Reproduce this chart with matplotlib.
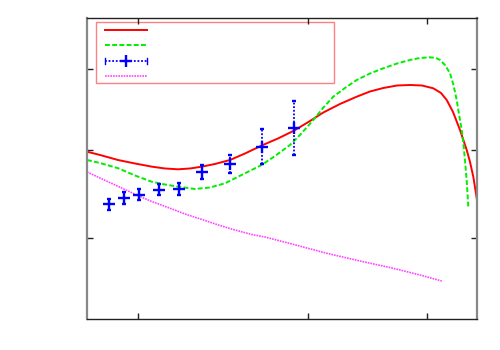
import matplotlib
matplotlib.use("Agg")
import matplotlib.pyplot as plt
from matplotlib.lines import Line2D
from matplotlib.patches import Rectangle

# fit curve 1 (red, solid)
red_x = [0, 0.333, 0.795, 1.231, 1.667, 2.0, 2.333, 2.641, 2.941, 3.282, 3.667, 4.051,
         4.479, 4.897, 5.315, 5.718, 6.059, 6.487, 6.915, 7.256, 7.597, 7.949, 8.282,
         8.590, 8.879, 9.077, 9.223, 9.385, 9.564, 9.736, 9.821, 9.905, 10.0]
red_y = [5.558, 5.449, 5.282, 5.166, 5.060, 5.0, 4.973, 5.0, 5.060, 5.150, 5.282, 5.498,
         5.764, 5.997, 6.262, 6.578, 6.860, 7.143, 7.385, 7.558, 7.674, 7.757, 7.774,
         7.757, 7.664, 7.508, 7.276, 6.877, 6.279, 5.615, 5.216, 4.728, 3.953]

# fit curve 2 (green, dashed)
green_x = [0, 0.333, 0.803, 1.231, 1.659, 2.0, 2.341, 2.769, 3.154, 3.538, 4.051, 4.479,
           4.821, 5.205, 5.462, 5.803, 6.051, 6.315, 6.615, 6.915, 7.256, 7.597, 7.949,
           8.282, 8.538, 8.795, 8.949, 9.051, 9.179, 9.308, 9.397, 9.479, 9.538, 9.608,
           9.654, 9.692, 9.738, 9.777]
green_y = [5.282, 5.183, 5.007, 4.767, 4.561, 4.468, 4.395, 4.319, 4.369, 4.508, 4.841,
           5.116, 5.415, 5.781, 6.113, 6.611, 7.010, 7.385, 7.674, 7.940, 8.156, 8.329,
           8.488, 8.605, 8.671, 8.694, 8.671, 8.605, 8.439, 8.163, 7.774, 7.276, 6.811,
           6.279, 5.781, 5.282, 4.551, 3.731]

# measurements (blue, with error bars)
pts_x = [0.572, 0.941, 1.333, 1.838, 2.367, 2.949, 3.667, 4.479, 5.315]
pts_y = [3.811, 4.030, 4.120, 4.286, 4.309, 4.874, 5.140, 5.724, 6.336]
pts_err = [0.183, 0.200, 0.183, 0.183, 0.200, 0.233, 0.300, 0.581, 0.897]

# third curve (magenta, dotted)
mag_x = [0, 0.333, 0.803, 1.333, 1.659, 2.077, 2.513, 3.026, 3.367, 3.795, 4.223,
         4.564, 5.205, 6.146, 7.0, 7.854, 8.538, 9.095]
mag_y = [4.884, 4.684, 4.402, 4.086, 3.904, 3.704, 3.488, 3.272, 3.123, 2.957, 2.807,
         2.724, 2.508, 2.183, 1.927, 1.684, 1.462, 1.262]

xticks = [1.308, 5.667, 8.718]
yticks = [2.691, 5.62, 8.306]

fig = plt.figure(figsize=(5, 3.5), dpi=100)
ax = fig.add_axes([0.174, 0.0886, 0.78, 0.86])

ax.plot(red_x, red_y, color="#ff0000", lw=1.4)
ax.plot(green_x, green_y, color="#00ee00", lw=1.4, ls=(0, (2.5, 1.2)))
eb = ax.errorbar(pts_x, pts_y, yerr=pts_err, fmt="+", color="#0000ff", ms=8, mew=1.7,
                 elinewidth=1.3, capsize=1.5, capthick=1.0)
eb[2][0].set_linestyle((0, (1, 1)))
ax.plot(mag_x, mag_y, color="#ff44ff", lw=1.2, ls=(0, (1, 0.6)))

ax.set_xlim(0, 10)
ax.set_ylim(0, 10)
ax.set_xticks(xticks)
ax.set_yticks(yticks)
ax.set_xticklabels([])
ax.set_yticklabels([])
ax.tick_params(direction="in", length=4, width=1, top=True, right=True, color="#222222")
for s in ["left", "right"]:
    ax.spines[s].set_color("#888888")
    ax.spines[s].set_linewidth(1.6)
for s in ["top", "bottom"]:
    ax.spines[s].set_color("#222222")
    ax.spines[s].set_linewidth(1.0)

# key box without titles
ax.add_patch(Rectangle((0.0231, 0.785), 0.611, 0.2007, transform=ax.transAxes,
                       fill=False, edgecolor="#ff8080", lw=1.0))
kx = [0.0462, 0.153]
ax.add_line(Line2D(kx, [0.960, 0.960], transform=ax.transAxes, color="#ff0000", lw=1.4))
ax.add_line(Line2D(kx, [0.910, 0.910], transform=ax.transAxes, color="#00ee00", lw=1.4,
                   ls=(0, (2.5, 1.2))))
ax.add_line(Line2D(kx, [0.858, 0.858], transform=ax.transAxes, color="#0000ff", lw=1.3,
                   ls=(0, (1, 1))))
ax.add_line(Line2D([sum(kx) / 2], [0.858], transform=ax.transAxes, color="#0000ff",
                   marker="+", ms=8, mew=1.7, ls="none"))
for xe in kx:
    ax.add_line(Line2D([xe, xe], [0.848, 0.868], transform=ax.transAxes, color="#0000ff", lw=1.0))
ax.add_line(Line2D(kx, [0.808, 0.808], transform=ax.transAxes, color="#ff44ff", lw=1.2,
                   ls=(0, (1, 0.6))))

fig.savefig("out.png", dpi=100)
